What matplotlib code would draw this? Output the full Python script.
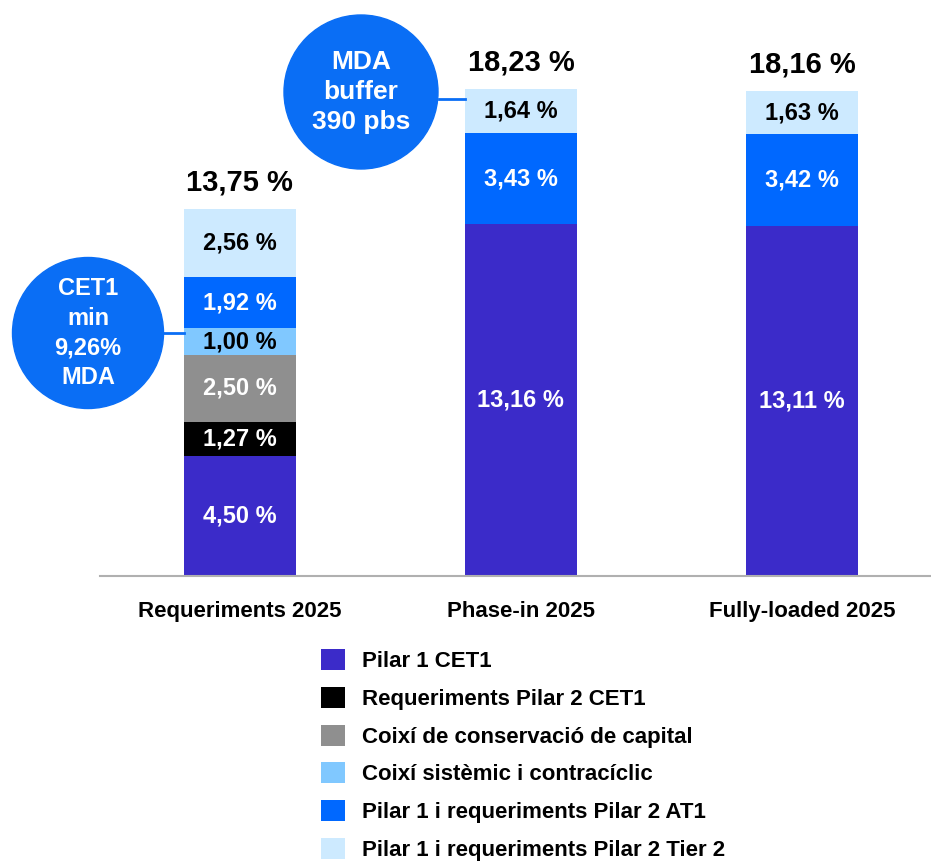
import numpy as np
import matplotlib.pyplot as plt
from matplotlib.patches import Circle, Patch
from matplotlib.lines import Line2D

plt.rcParams['font.family'] = ['Liberation Sans', 'DejaVu Sans']
plt.rcParams['font.weight'] = 'bold'

categories = ["Requeriments 2025", "Phase-in 2025", "Fully-loaded 2025"]
series = ["Pilar 1 CET1", "Requeriments Pilar 2 CET1", "Coixí de conservació de capital",
          "Coixí sistèmic i contracíclic", "Pilar 1 i requeriments Pilar 2 AT1",
          "Pilar 1 i requeriments Pilar 2 Tier 2"]
values = [
    [4.50, 13.16, 13.11],
    [1.27, 0, 0],
    [2.50, 0, 0],
    [1.00, 0, 0],
    [1.92, 3.43, 3.42],
    [2.56, 1.64, 1.63],
]
totals = [13.75, 18.23, 18.16]
colors = ["#3b2bc9", "#000000", "#8f8f8f", "#80c8ff", "#0068ff", "#cdeaff"]
text_colors = ["white", "white", "white", "black", "white", "black"]

fig = plt.figure(figsize=(9.31, 8.64), dpi=100)
ax = fig.add_axes([100 / 931, 288 / 864, 830 / 931, 534.4 / 864])

x = np.arange(len(categories))
bottom = np.zeros(len(categories))
for vals, col, tcol in zip(values, colors, text_colors):
    vals = np.array(vals)
    ax.bar(x, vals, bottom=bottom, width=0.4, color=col)
    for xi, v, b in zip(x, vals, bottom):
        if v > 0:
            ax.text(xi, b + v / 2, f"{v:.2f} %".replace(".", ","), ha="center", va="center",
                    color=tcol, fontsize=17, fontweight="bold")
    bottom += vals

for xi, t in zip(x, totals):
    ax.text(xi, t + 0.45, f"{t:.2f} %".replace(".", ","), ha="center", va="bottom",
            fontsize=21, fontweight="bold")

ax.set_xlim(-0.498, 2.456)
ax.set_ylim(0, 20)
ax.set_xticks(x)
ax.set_xticklabels(categories, fontsize=16, fontweight="bold")
ax.tick_params(axis="x", length=0, pad=18)
ax.set_yticks([])
for s in ["top", "right", "left"]:
    ax.spines[s].set_visible(False)
ax.spines["bottom"].set_color("#b0b0b0")
ax.spines["bottom"].set_linewidth(1.5)

# callout circles (figure inches)
circ_col = "#0a6ef5"
tr = fig.dpi_scale_trans
fig.add_artist(Line2D([1.63, 1.84], [5.31, 5.31], color=circ_col, lw=2, transform=tr))
fig.add_artist(Circle((0.88, 5.31), 0.755, color=circ_col, transform=tr))
fig.text(0.88, 5.31, "CET1\nmin\n9,26%\nMDA", transform=tr, ha="center", va="center",
         color="white", fontsize=17, fontweight="bold", linespacing=1.38)

fig.add_artist(Line2D([4.39, 4.65], [7.65, 7.65], color=circ_col, lw=2, transform=tr))
fig.add_artist(Circle((3.61, 7.72), 0.77, color=circ_col, transform=tr))
fig.text(3.61, 7.72, "MDA\nbuffer\n390 pbs", transform=tr, ha="center", va="center",
         color="white", fontsize=19, fontweight="bold", linespacing=1.32)

handles = [Patch(facecolor=c, edgecolor="none") for c in colors]
fig.legend(handles, series, loc="upper left", bbox_to_anchor=(321 / 931, (864 - 649) / 864),
           frameon=False, handlelength=1.08, handleheight=1.08,
           labelspacing=0.66, handletextpad=0.77, borderpad=0, borderaxespad=0,
           prop={"weight": "bold", "size": 16})

fig.savefig("out.png", dpi=100)
